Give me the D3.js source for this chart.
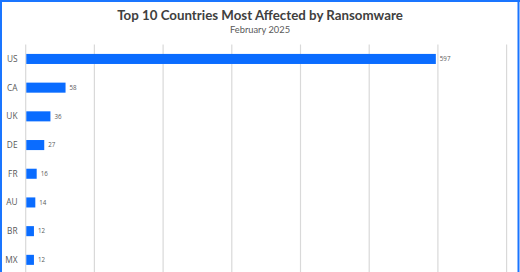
<!DOCTYPE html>
<html>
<head>
<meta charset="utf-8">
<script src="https://cdn.jsdelivr.net/npm/d3@7"></script>
<style>
html, body { margin: 0; padding: 0; background: #fff; overflow: hidden; }
svg { display: block; }
</style>
</head>
<body>
<svg id="chart" width="520" height="272"></svg>
<script>
const countries = ["US", "CA", "UK", "DE", "FR", "AU", "BR", "MX"];
const attacks = [597, 58, 36, 27, 16, 14, 12, 12];
const xTicks = [0, 100, 200, 300, 400, 500, 600, 700];
const titleText = "Top 10 Countries Most Affected by Ransomware";
const subtitleText = "February 2025";

const W = 520, H = 272;
const svg = d3.select("#chart");
svg.append("rect").attr("width", W).attr("height", H).attr("fill", "#fff");

const x = d3.scaleLinear().domain([0, 700]).range([25.7, 506.6]);
const y = d3.scaleBand().domain(countries).range([44.6, 44.6 + 28.7 * countries.length]).paddingInner(0.65).paddingOuter(0.325);

// gridlines
svg.append("g").selectAll("line").data(xTicks).join("line")
  .attr("x1", d => x(d)).attr("x2", d => x(d))
  .attr("y1", 44.5).attr("y2", H)
  .attr("stroke", "#d9d9d9").attr("stroke-width", 1.2);

// bars
svg.append("g").selectAll("rect").data(countries).join("rect")
  .attr("x", x(0) + 0.6)
  .attr("y", d => y(d))
  .attr("width", (d, i) => x(attacks[i]) - x(0) - 0.6)
  .attr("height", y.bandwidth())
  .attr("fill", "#0a6cff");

// category labels
const yAxis = d3.axisLeft(y).tickSize(0).tickPadding(0);
const ga = svg.append("g").attr("transform", "translate(17.5,0)").call(yAxis);
ga.select(".domain").remove();
ga.selectAll("text").attr("font-family", "'Open Sans', sans-serif").attr("font-size", 8.3).attr("fill", "#595959").attr("dy", "0.35em");

// value labels
svg.append("g").selectAll("text").data(countries).join("text")
  .attr("x", (d, i) => x(attacks[i]) + 4)
  .attr("y", d => y(d) + y.bandwidth() / 2)
  .attr("dy", "0.35em")
  .attr("font-family", "'Open Sans', sans-serif").attr("font-size", 6.2).attr("fill", "#595959")
  .text((d, i) => attacks[i]);

// title
svg.append("text").attr("x", 260).attr("y", 19.5).attr("text-anchor", "middle")
  .attr("font-family", "Lato, sans-serif").attr("font-weight", "bold").attr("font-size", 13.3)
  .attr("fill", "#404040").text(titleText);
svg.append("text").attr("x", 260).attr("y", 33.3).attr("text-anchor", "middle")
  .attr("font-family", "Lato, sans-serif").attr("font-size", 9.3)
  .attr("fill", "#595959").text(subtitleText);

// frame
svg.append("line").attr("x1", 1).attr("x2", 1).attr("y1", 0).attr("y2", H).attr("stroke", "#1a75ff").attr("stroke-width", 2);
svg.append("line").attr("x1", 518.5).attr("x2", 518.5).attr("y1", 0).attr("y2", H).attr("stroke", "#1a75ff").attr("stroke-width", 2);
svg.append("line").attr("x1", 0).attr("x2", W).attr("y1", 1).attr("y2", 1).attr("stroke", "#1a75ff").attr("stroke-width", 2);
</script>
</body>
</html>
